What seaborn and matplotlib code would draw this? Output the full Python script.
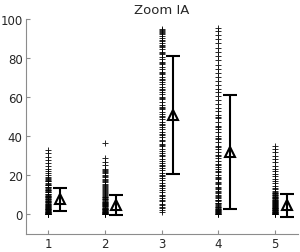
import matplotlib
matplotlib.use("Agg")
import matplotlib.pyplot as plt
import seaborn as sns
import pandas as pd
import numpy as np

sns.set_style("ticks")
plt.rcParams["font.family"] = ["DejaVu Sans"]

# raw values per group
group_1 = [0, 0.2, 0.4, 0.7, 1, 1.2, 1.5, 1.8, 2, 2.3, 2.6, 3, 3.3, 3.7, 4, 4.4,
           4.8, 5.1, 5.5, 6, 6.4, 6.9, 7.3, 7.8, 8.2, 8.7, 9.1, 9.6, 10.2, 10.7,
           11.3, 11.9, 12.4, 13, 13.6, 14.3, 15, 15.6, 16.3, 17.1, 17.8, 18.5,
           19.3, 20.1, 21, 22.2, 23.5, 25, 26.4, 28.1, 29.5, 31.4, 33.2,
           0.1, 0.5, 0.9, 1.4, 2.1, 2.8, 3.5, 4.2, 5.3, 6.2, 7.1, 8.0, 9.4, 10.5,
           11.6, 12.7, 14.0, 15.3, 16.9, 18.1]
group_2 = [0, 0.3, 0.6, 0.9, 1.3, 1.7, 2, 2.4, 2.8, 3.2, 3.7, 4.1, 4.6, 5, 5.5,
           6, 6.6, 7.1, 7.7, 8.3, 8.9, 9.5, 10.2, 10.9, 11.6, 12.3, 13.1, 13.9,
           14.8, 15.6, 16.5, 17.4, 18.3, 19.2, 20.1, 21, 21.8, 22.6, 23.4, 25.1,
           26.6, 28.7, 36.4,
           0.1, 0.4, 0.8, 1.1, 1.5, 2.2, 2.6, 3.0, 3.5, 4.4, 5.2, 5.8, 6.3, 7.4,
           8.0, 9.2, 10.5, 12.0, 13.5, 15.2, 17.0, 19.7, 22.2]
group_3 = [1.2, 2.5, 3.1, 4.8, 5.6, 6.9, 8.2, 9.4, 10.1, 11.7, 12.5, 13.8, 15.2,
           16.1, 17.4, 18.9, 19.6, 21.3, 22.5, 23.7, 24.8, 26.2, 27.5, 28.3, 29.9,
           31.2, 32.4, 33.6, 34.8, 36.1, 37.5, 38.2, 39.7, 41.0, 42.3, 43.5, 44.8,
           46.2, 47.1, 48.6, 49.9, 51.3, 52.4, 53.8, 55.1, 56.2, 57.6, 58.9, 60.3,
           61.5, 62.8, 64.1, 65.4, 66.6, 67.9, 69.2, 70.5, 71.8, 73.0, 74.2, 75.6,
           76.9, 78.1, 79.4, 80.6, 81.9, 83.1, 84.4, 85.5, 86.7, 87.8, 88.9, 90.1,
           91.2, 92.3, 93.4, 94.5, 95.1,
           3.8, 7.5, 14.6, 20.4, 25.5, 30.6, 35.4, 40.5, 45.6, 50.5, 54.6, 59.5,
           63.5, 68.6, 72.4, 77.5, 82.5, 86.1, 89.5, 92.8, 94.0]
group_4 = [0.1, 0.5, 0.9, 1.4, 1.8, 2.3, 2.9, 3.4, 4.0, 4.7, 5.3, 6.1, 6.8, 7.6,
           8.5, 9.3, 10.2, 11.2, 12.1, 13.2, 14.3, 15.5, 16.6, 17.9, 19.1, 20.4,
           21.8, 23.1, 24.5, 26.0, 27.4, 28.9, 30.5, 32.0, 33.6, 35.2, 36.9, 38.5,
           40.2, 42.0, 43.7, 45.5, 47.3, 49.1, 51.0, 52.8, 54.7, 56.6, 58.5, 60.5,
           62.4, 64.4, 66.4, 68.4, 70.5, 72.5, 74.6, 76.7, 78.8, 81.0, 83.1, 85.3,
           87.5, 89.7, 91.9, 94.1, 95.2,
           0.3, 0.7, 1.1, 1.6, 2.1, 2.6, 3.7, 4.4, 5.7, 7.2, 8.9, 11.7, 13.8,
           16.0, 18.5, 22.4, 25.3, 29.7, 34.4, 39.3, 44.6, 50.1]
group_5 = [0.0, 0.3, 0.6, 1.0, 1.3, 1.7, 2.1, 2.5, 2.9, 3.3, 3.8, 4.2, 4.7, 5.2,
           5.7, 6.2, 6.8, 7.3, 7.9, 8.5, 9.1, 9.8, 10.5, 11.2, 12.0, 12.9, 13.8,
           14.8, 15.9, 17.0, 18.2, 19.5, 20.8, 22.1, 23.5, 25.0, 26.6, 28.2, 30.0,
           31.8, 33.5, 35.0,
           0.1, 0.4, 0.8, 1.1, 1.5, 1.9, 2.3, 2.7, 3.1, 3.5, 4.0, 4.5, 5.0, 5.5,
           6.0, 6.5, 7.1, 7.6, 8.2, 8.8, 9.5, 10.1, 10.8, 11.6]

groups = [1, 2, 3, 4, 5]
means = [7.8, 4.8, 51.0, 32.0, 4.6]
errors = [5.8, 5.3, 30.2, 29.3, 5.9]

rows = []
for g, vals in zip(groups, [group_1, group_2, group_3, group_4, group_5]):
    for v in vals:
        rows.append({"group": g, "value": v})
df = pd.DataFrame(rows)

fig = plt.figure(figsize=(3.0, 2.53), dpi=100)
ax = fig.add_axes([0.085, 0.071, 0.908, 0.85])

sns.scatterplot(data=df, x="group", y="value", marker="+", color="black",
                s=22, linewidth=0.7, alpha=0.85, ax=ax, legend=False)

ax.errorbar(np.array(groups) + 0.2, means, yerr=errors, fmt="^",
            mfc="none", mec="black", ms=7.5, mew=1.5, ecolor="black",
            elinewidth=1.5, capsize=5, capthick=1.5, color="black")

ax.set_xlim(0.6, 5.4)
ax.set_ylim(-10, 100)
ax.set_xticks(groups)
ax.set_yticks([0, 20, 40, 60, 80, 100])
ax.set_xlabel("")
ax.set_ylabel("")
ax.set_title("Zoom IA", fontsize=9.5, pad=4)

sns.despine(ax=ax)
for side in ["left", "bottom"]:
    ax.spines[side].set_color("#8c8c8c")
    ax.spines[side].set_linewidth(0.8)
ax.tick_params(direction="in", length=3, color="#8c8c8c", labelsize=8.5, pad=2)

fig.savefig("out.png", dpi=100)
